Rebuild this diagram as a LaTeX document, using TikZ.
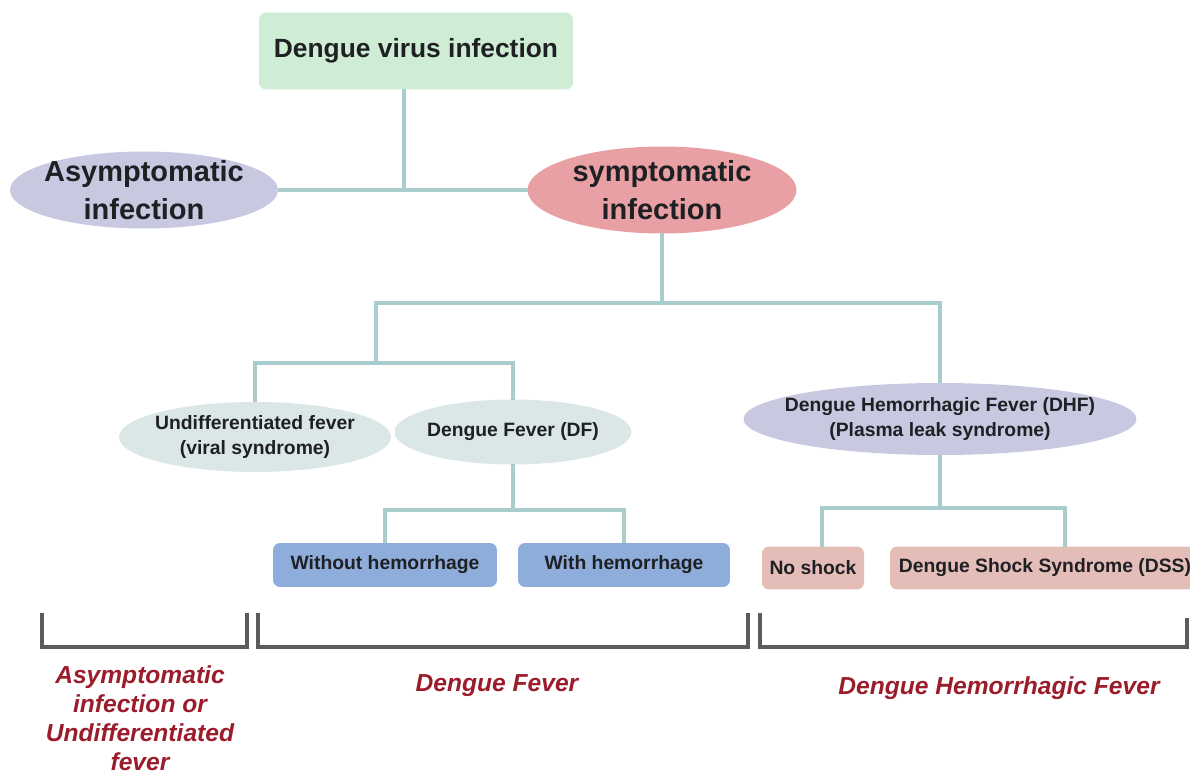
\documentclass[tikz,border=0pt]{standalone}
\usepackage{fontspec}
\setmainfont{Liberation Sans}
\usetikzlibrary{positioning,shapes.geometric,calc}

\definecolor{linkc}{RGB}{169,205,205}
\definecolor{greenc}{RGB}{207,236,212}
\definecolor{lavc}{RGB}{200,200,224}
\definecolor{salmc}{RGB}{233,160,164}
\definecolor{greyc}{RGB}{219,230,230}
\definecolor{bluec}{RGB}{142,173,219}
\definecolor{pinkc}{RGB}{229,189,184}
\definecolor{brkc}{RGB}{92,92,92}
\definecolor{redc}{RGB}{155,28,42}
\definecolor{inkc}{RGB}{30,32,36}

\begin{document}
\begin{tikzpicture}[x=0.02cm, y=-0.02cm,
    link/.style={draw=linkc, line width=2.3pt},
    brk/.style={draw=brkc, line width=2.4pt},
    oval/.style={ellipse, inner sep=0pt, outer sep=0pt},
    box/.style={rectangle, rounded corners=4pt, inner sep=0pt, outer sep=0pt, text=inkc},
    big/.style={font=\bfseries\fontsize{16.5}{21.5}\selectfont, text=inkc, align=center},
    small/.style={font=\bfseries\fontsize{11}{14}\selectfont, text=inkc, align=center},
    note/.style={font=\bfseries\itshape\fontsize{14}{16.5}\selectfont, text=redc, align=center}]
    \useasboundingbox (0,0) rectangle (1190,776);

    % levels of the tree
    \node[box, fill=greenc, minimum width=6.28cm, minimum height=1.54cm,
          font=\bfseries\fontsize{15}{18}\selectfont] (dvi) at (416,51) {Dengue virus infection};
    \node[oval, fill=lavc, minimum width=5.36cm, minimum height=1.54cm,
          label={[big]center:Asymptomatic\\infection}] (asym) at (144,190) {};
    \node[oval, fill=salmc, minimum width=5.38cm, minimum height=1.74cm,
          label={[big]center:symptomatic\\infection}] (sym) at (662,190) {};

    \node[oval, fill=greyc, minimum width=5.44cm, minimum height=1.40cm,
          label={[small]center:Undifferentiated fever\\(viral syndrome)}] (undf) at (255,437) {};
    \node[oval, fill=greyc, minimum width=4.74cm, minimum height=1.30cm,
          label={[small]center:Dengue Fever (DF)}] (df) at (513,432) {};
    \node[oval, fill=lavc, minimum width=7.86cm, minimum height=1.44cm,
          label={[small]center:Dengue Hemorrhagic Fever (DHF)\\(Plasma leak syndrome)}] (dhf) at (940,419) {};

    \node[box, fill=bluec, minimum width=4.48cm, minimum height=0.88cm, small] (wo) at (385,565) {Without hemorrhage};
    \node[box, fill=bluec, minimum width=4.24cm, minimum height=0.88cm, small] (wi) at (624,565) {With hemorrhage};
    \node[box, fill=pinkc, minimum width=2.04cm, minimum height=0.86cm, small] (nos) at (813,568) {No shock};
    \node[box, fill=pinkc, minimum width=6.20cm, minimum height=0.86cm, small] (dss) at (1045,568) {Dengue Shock Syndrome (DSS)};

    % connectors
    \coordinate (j1) at (404,190);
    \coordinate (j2) at (662,303);
    \coordinate (j3) at (376,363);
    \coordinate (j4) at (940,303);
    \coordinate (j5) at (513,510);
    \coordinate (k1) at (822,508);
    \coordinate (k2) at (1065,508);
    \draw[link] (dvi.south -| j1) -- (j1);
    \draw[link] (asym.east) -- (sym.west);
    \draw[link] (sym.south) -- (j2);
    \draw[link] (undf.north) |- (j3) -| (df.north);
    \draw[link] (j3) |- (j4) -- (dhf.north);
    \draw[link] (df.south) -- (j5);
    \draw[link] (wo.north) |- (j5) -| (wi.north);
    \draw[link] (dhf.south) -- (dhf.south |- k1);
    \draw[link] (nos.north -| k1) -- (k1) -- (k2) -- (dss.north -| k2);

    % brackets and their notes
    \draw[brk] (42,613) |- (247,647) -- (247,613);
    \draw[brk] (258,613) |- (748,647) -- (748,613);
    \draw[brk] (760,613) |- (1187,647) -- (1187,618);
    \node[note] (n1) at (140,718) {Asymptomatic\\infection or\\Undifferentiated\\fever};
    \node[note] (n2) at (497,686) {Dengue Fever};
    \node[note] (n3) at (999,688) {Dengue Hemorrhagic Fever};
\end{tikzpicture}
\end{document}
